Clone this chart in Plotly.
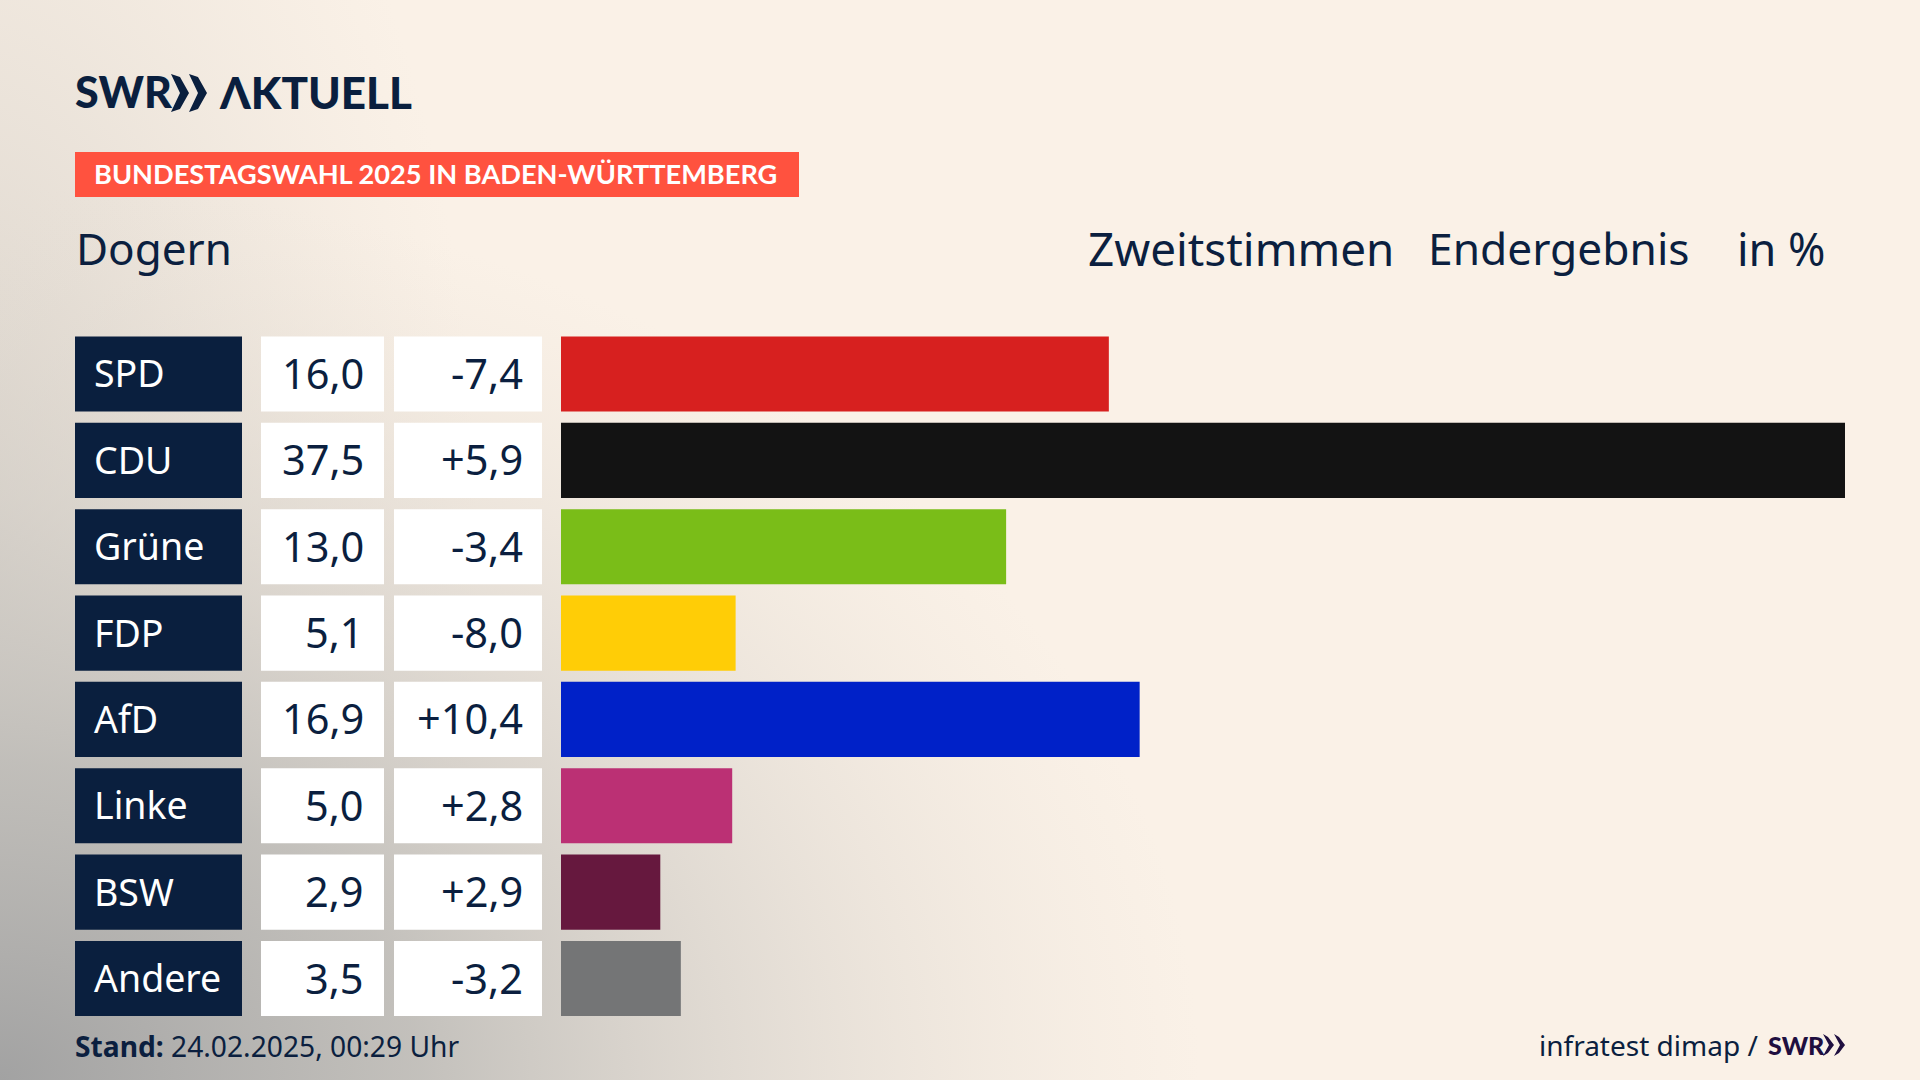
"""Bundestagswahl 2025 result card for Dogern, drawn with Plotly."""

import base64

import plotly.graph_objects as go

W, H = 1920, 1080
FONT = "Noto Sans"
NARROW = "Lato"
INK = "#0b1f3f"

parties = ["SPD", "CDU", "Grüne", "FDP", "AfD", "Linke", "BSW", "Andere"]
results = [16.0, 37.5, 13.0, 5.1, 16.9, 5.0, 2.9, 3.5]
changes = [-7.4, 5.9, -3.4, -8.0, 10.4, 2.8, 2.9, -3.2]
bar_colors = ["#d7201f", "#131313", "#7abd18", "#ffcd06", "#0021c8", "#bb3074", "#66183e", "#747576"]


def px(x):
    return x / W


def py(y):
    return 1 - y / H


def note(text, x, y, size, color=INK, anchor="left", family=FONT, yref="paper", yshift=0, weight=None):
    font = dict(family=family, size=size, color=color)
    if weight:
        font["weight"] = weight
    return dict(
        text=text, x=px(x), y=py(y) if yref == "paper" else y,
        xref="paper", yref=yref, xanchor=anchor, yanchor="middle", yshift=yshift,
        showarrow=False, font=font,
    )


def chevron(x, top, bottom, width, depth, color):
    mid = (top + bottom) / 2
    pts = [(x, top), (x + depth, top + 3), (x + width, mid), (x + depth, bottom - 3), (x, bottom), (x + width - depth, mid)]
    path = "M " + " L ".join(f"{px(a):.5f} {py(b):.5f}" for a, b in pts) + " Z"
    return dict(type="path", path=path, xref="paper", yref="paper", fillcolor=color, line=dict(width=0))


# background glow: one pool in the lower left corner, one along the left edge
svg = f"""<svg xmlns="http://www.w3.org/2000/svg" width="{W}" height="{H}">
<defs>
<radialGradient id="g" gradientUnits="userSpaceOnUse" cx="0" cy="0" r="1"
 gradientTransform="translate(0 1080) scale(1200 900)">
<stop offset="0" stop-color="#a2a2a2" stop-opacity="1"/><stop offset="0.35" stop-color="#bdbbb7" stop-opacity="0.9"/>
<stop offset="0.65" stop-color="#d6d1ca" stop-opacity="0.6"/><stop offset="1" stop-color="#e8e0d6" stop-opacity="0"/></radialGradient>
<radialGradient id="e" gradientUnits="userSpaceOnUse" cx="0" cy="0" r="1"
 gradientTransform="translate(-40 560) scale(520 1000)">
<stop offset="0" stop-color="#cfcac3" stop-opacity="0.9"/><stop offset="1" stop-color="#e8e0d6" stop-opacity="0"/></radialGradient>
</defs>
<rect width="{W}" height="{H}" fill="#faf1e7"/>
<rect width="{W}" height="{H}" fill="url(#e)"/>
<rect width="{W}" height="{H}" fill="url(#g)"/></svg>"""
bg_src = "data:image/svg+xml;base64," + base64.b64encode(svg.encode()).decode()

fig = go.Figure()
# vote share bars
fig.add_trace(go.Bar(x=results, y=parties, orientation="h", marker=dict(color=bar_colors, line=dict(width=0)), showlegend=False))
# table cells behind the text, one hidden x axis per column
for axis, color in (("x2", "#0a1f3e"), ("x3", "#ffffff"), ("x4", "#ffffff")):
    fig.add_trace(go.Bar(x=[1] * len(parties), y=parties, orientation="h", xaxis=axis, marker=dict(color=color, line=dict(width=0)), showlegend=False, hoverinfo="skip"))

annotations = [
    note("SWR", 73, 92, 43, "#0a1f3e", family=NARROW, weight=900),
    note("ΛKTUELL", 217, 92, 44, "#0a1f3e", family=NARROW, weight=900),
    note("<b>BUNDESTAGSWAHL 2025 IN BADEN-WÜRTTEMBERG</b>", 92, 174, 27.2, "#ffffff", family=NARROW),
    note("Dogern", 74, 248, 44),
    note("Zweitstimmen", 1086, 248, 45.8),
    note("Endergebnis", 1426, 248, 44.3),
    note("in %", 1828, 248, 45, anchor="right"),
    note("<b>Stand:</b> 24.02.2025, 00:29 Uhr", 73, 1046, 28.2),
    note("infratest dimap /", 1760, 1045, 28, anchor="right"),
    note("SWR", 1766, 1045, 25, "#1f0f40", family=NARROW, weight=900),
]
for party, result, change in zip(parties, results, changes):
    annotations.append(note(party, 92, party, 37.5, "#ffffff", yref="y", yshift=1))
    annotations.append(note(f"{result:.1f}".replace(".", ","), 366, party, 41.5, anchor="right", yref="y", yshift=1))
    annotations.append(note(f"{change:+.1f}".replace(".", ","), 525, party, 41.5, anchor="right", yref="y", yshift=1))

shapes = [
    dict(type="rect", xref="paper", yref="paper", x0=px(75), x1=px(799), y0=py(197), y1=py(152), fillcolor="#ff523f", line=dict(width=0), layer="below"),
    chevron(171, 74, 112, 18, 9, "#0a1f3e"),
    chevron(189, 74, 112, 18, 9, "#0a1f3e"),
    chevron(1823, 1034, 1056, 11, 5, "#1f0f40"),
    chevron(1834, 1034, 1056, 11, 5, "#1f0f40"),
]

hidden = dict(visible=False, fixedrange=True)
fig.update_layout(
    width=W, height=H, margin=dict(l=0, r=0, t=0, b=0), autosize=False,
    paper_bgcolor="#faf1e7", plot_bgcolor="rgba(0,0,0,0)",
    bargap=0.13, showlegend=False,
    xaxis=dict(hidden, domain=[px(561), px(1845)], range=[0, max(results)]),
    xaxis2=dict(hidden, domain=[px(75), px(242)], range=[0, 1], anchor="y"),
    xaxis3=dict(hidden, domain=[px(261), px(384)], range=[0, 1], anchor="y"),
    xaxis4=dict(hidden, domain=[px(394), px(542)], range=[0, 1], anchor="y"),
    yaxis=dict(hidden, domain=[py(1021.7), py(330.8)], categoryorder="array", categoryarray=parties, autorange="reversed"),
    images=[dict(source=bg_src, xref="paper", yref="paper", x=0, y=1, sizex=1, sizey=1, sizing="stretch", layer="below")],
    annotations=annotations, shapes=shapes,
)

fig.write_html("out.html", config={"displayModeBar": False}, post_script="document.body.style.margin='0';")
